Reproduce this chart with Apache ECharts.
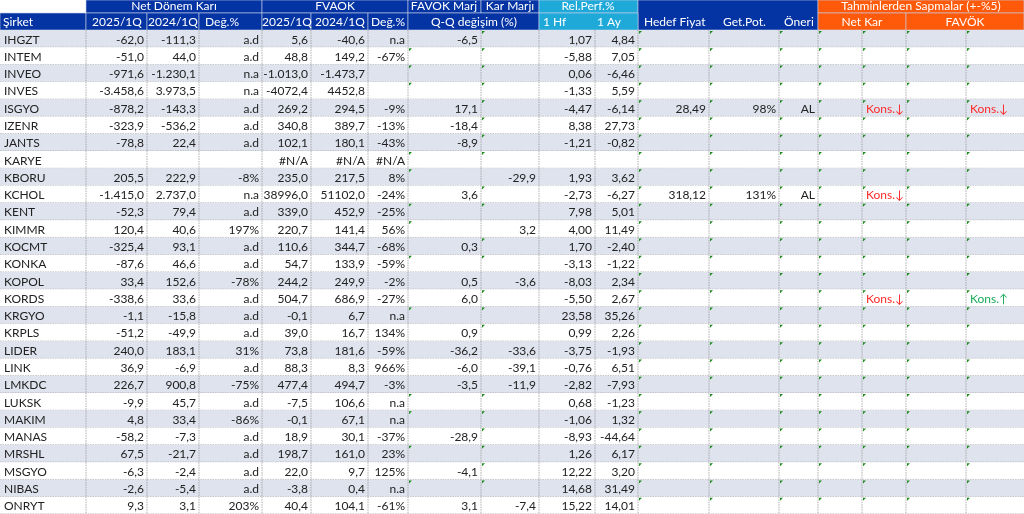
<!DOCTYPE html>
<html><head><meta charset="utf-8">
<script src="https://cdn.jsdelivr.net/npm/echarts@6/dist/echarts.min.js"></script>
<style>html,body{margin:0;padding:0;background:#fff}#c{width:1024px;height:514px}</style>
</head><body><div id="c"></div>
<script>
const companies=["IHGZT","INTEM","INVEO","INVES","ISGYO","IZENR","JANTS","KARYE","KBORU","KCHOL","KENT","KIMMR","KOCMT","KONKA","KOPOL","KORDS","KRGYO","KRPLS","LIDER","LINK","LMKDC","LUKSK","MAKIM","MANAS","MRSHL","MSGYO","NIBAS","ONRYT"];
const nk25=["-62,0","-51,0","-971,6","-3.458,6","-878,2","-323,9","-78,8","","205,5","-1.415,0","-52,3","120,4","-325,4","-87,6","33,4","-338,6","-1,1","-51,2","240,0","36,9","226,7","-9,9","4,8","-58,2","67,5","-6,3","-2,6","9,3"];
const nk24=["-111,3","44,0","-1.230,1","3.973,5","-143,3","-536,2","22,4","","222,9","2.737,0","79,4","40,6","93,1","46,6","152,6","33,6","-15,8","-49,9","183,1","-6,9","900,8","45,7","33,4","-7,3","-21,7","-2,4","-5,4","3,1"];
const nkDeg=["a.d","a.d","n.a","n.a","a.d","a.d","a.d","","-8%","n.a","a.d","197%","a.d","a.d","-78%","a.d","a.d","a.d","31%","a.d","-75%","a.d","-86%","a.d","a.d","a.d","a.d","203%"];
const fv25=["5,6","48,8","-1.013,0","-4072,4","269,2","340,8","102,1","#N/A","235,0","38996,0","339,0","220,7","110,6","54,7","244,2","504,7","-0,1","39,0","73,8","88,3","477,4","-7,5","-0,1","18,9","198,7","22,0","-3,8","40,4"];
const fv24=["-40,6","149,2","-1.473,7","4452,8","294,5","389,7","180,1","#N/A","217,5","51102,0","452,9","141,4","344,7","133,9","249,9","686,9","6,7","16,7","181,6","8,3","494,7","106,6","67,1","30,1","161,0","9,7","0,4","104,1"];
const fvDeg=["n.a","-67%","","","-9%","-13%","-43%","#N/A","8%","-24%","-25%","56%","-68%","-59%","-2%","-27%","n.a","134%","-59%","966%","-3%","n.a","n.a","-37%","23%","125%","n.a","-61%"];
const favokMarj=["-6,5","","","","17,1","-18,4","-8,9","","","3,6","","","0,3","","0,5","6,0","","0,9","-36,2","-6,0","-3,5","","","-28,9","","-4,1","","3,1"];
const karMarj=["","","","","","","","","-29,9","","","3,2","","","-3,6","","","","-33,6","-39,1","-11,9","","","","","","","-7,4"];
const perf1Hf=["1,07","-5,88","0,06","-1,33","-4,47","8,38","-1,21","","1,93","-2,73","7,98","4,00","1,70","-3,13","-8,03","-5,50","23,58","0,99","-3,75","-0,76","-2,82","0,68","-1,06","-8,93","1,26","12,22","14,68","15,22"];
const perf1Ay=["4,84","7,05","-6,46","5,59","-6,14","27,73","-0,82","","3,62","-6,27","5,01","11,49","-2,40","-1,22","2,34","2,67","35,26","2,26","-1,93","6,51","-7,93","-1,23","1,32","-44,64","6,17","3,20","31,49","14,01"];
const hedef=["","","","","28,49","","","","","318,12","","","","","","","","","","","","","","","","","",""];
const getPot=["","","","","98%","","","","","131%","","","","","","","","","","","","","","","","","",""];
const oneri=["","","","","AL","","","","","AL","","","","","","","","","","","","","","","","","",""];
const sapNK=["","","","","Kons.↓","","","","","Kons.↓","","","","","","Kons.↓","","","","","","","","","","","",""];
const sapFV=["","","","","Kons.↓","","","","","","","","","","","Kons.↑","","","","","","","","","","","",""];

// column layout: [x0, x1, source array, align]
const cols=[
 [0,86,companies,'left'],[86,147,nk25,'right'],[147,199,nk24,'right'],[199,262,nkDeg,'right'],
 [262,311,fv25,'right'],[311,368,fv24,'right'],[368,408,fvDeg,'right'],[408,481,favokMarj,'right'],
 [481,539,karMarj,'right'],[539,595,perf1Hf,'right'],[595,638,perf1Ay,'right'],[638,709,hedef,'right'],
 [709,779,getPot,'right'],[779,818,oneri,'right'],[818,862,null,'left'],[862,906,sapNK,'left'],
 [906,966,null,'left'],[966,1024,sapFV,'left']
];
const FONT='12px Lato, "Open Sans", sans-serif';
const BLUE='#0433a3',CYAN='#1ea9d9',ORANGE='#ff5a0a';

function renderRow(params, api){
  const r=api.value(0);
  const top=api.coord([0,r])[1]-api.size([0,1])[1]/2;
  const h=api.size([0,1])[1];
  const ch=[];
  ch.push({type:'rect',shape:{x:0,y:top,width:1024,height:h},style:{fill:r%2===0?'#dfe3ee':'#ffffff'}});
  ch.push({type:'line',shape:{x1:0,y1:top+h,x2:1024,y2:top+h},style:{stroke:'#9a9a9a',lineWidth:0.8,lineDash:[1.5,1]}});
  cols.forEach((c,i)=>{
    const x0=api.coord([c[0],r])[0], x1=api.coord([c[1],r])[0];
    if(i>0) ch.push({type:'line',shape:{x1:x0,y1:top,x2:x0,y2:top+h},style:{stroke:'#9a9a9a',lineWidth:0.8,lineDash:[1.5,1]}});
    if(c[0]>=638 || (i>=7&&i<=8&&c[2][r]==='')) ch.push({type:'polygon',shape:{points:[[x0+1,top+1],[x0+4,top+1],[x0+1,top+4]]},style:{fill:'#1a8a1a'}});
    if(!c[2]) return;
    const t=c[2][r]; if(!t) return;
    let color='#222';
    if(t.indexOf('↓')>=0) color='#ff2a2a';
    if(t.indexOf('↑')>=0) color='#1aaa5a';
    ch.push({type:'text',style:{text:t,x:c[3]==='left'?x0+4:x1-3,y:top+h/2+1,align:c[3],verticalAlign:'middle',font:FONT,fill:color}});
  });
  return {type:'group',children:ch};
}

const headerEls=[];
function hrect(x,y,w,h,fill){headerEls.push({type:'rect',shape:{x,y,width:w,height:h},style:{fill,stroke:'#c8d2ea',lineWidth:0.6}});}
function htext(t,x,y,align){headerEls.push({type:'text',style:{text:t,x,y,align:align||'center',verticalAlign:'middle',font:'12px Lato, "Open Sans", sans-serif',fill:'#fff'}});}
hrect(86,0,176,13,BLUE);hrect(262,0,146,13,BLUE);hrect(408,0,73,13,BLUE);hrect(481,0,58,13,BLUE);
hrect(539,0,99,13,CYAN);hrect(638,0,180,30,BLUE);hrect(818,0,206,13,ORANGE);
hrect(0,13,86,17,BLUE);hrect(86,13,61,17,BLUE);hrect(147,13,52,17,BLUE);hrect(199,13,63,17,BLUE);
hrect(262,13,49,17,BLUE);hrect(311,13,57,17,BLUE);hrect(368,13,40,17,BLUE);hrect(408,13,131,17,BLUE);
hrect(539,13,99,17,CYAN);hrect(818,13,88,17,ORANGE);hrect(906,13,118,17,ORANGE);
htext('Net Dönem Karı',174,6.5);htext('FVAOK',335,6.5);htext('FAVOK Marj',444,6.5);htext('Kar Marjı',510,6.5);
htext('Rel.Perf.%',588,6.5);htext('Tahminlerden Sapmalar (+-%5)',921,6.5);
htext('Şirket',3,22,'left');htext('2025/1Q',117,22);htext('2024/1Q',173,22);htext('Değ.%',205,22,'left');
htext('2025/1Q',287,22);htext('2024/1Q',340,22);htext('Değ.%',371,22,'left');htext('Q-Q değişim (%)',474,22);
htext('1 Hf',543,22,'left');htext('1 Ay',597,22,'left');htext('Hedef Fiyat',644,22,'left');
htext('Get.Pot.',723,22,'left');htext('Öneri',784,22,'left');htext('Net Kar',862,22);htext('FAVÖK',965,22);

const chart=echarts.init(document.getElementById('c'),null,{renderer:'canvas'});
chart.setOption({
  animation:false,
  grid:{left:0,right:0,top:30,height:28*17.4},
  xAxis:{type:'value',min:0,max:1024,show:false},
  yAxis:{type:'category',data:companies,inverse:true,show:false},
  series:[{type:'custom',renderItem:renderRow,data:companies.map((c,i)=>[i]),encode:{y:0},clip:false}],
  graphic:headerEls
});
</script></body></html>
